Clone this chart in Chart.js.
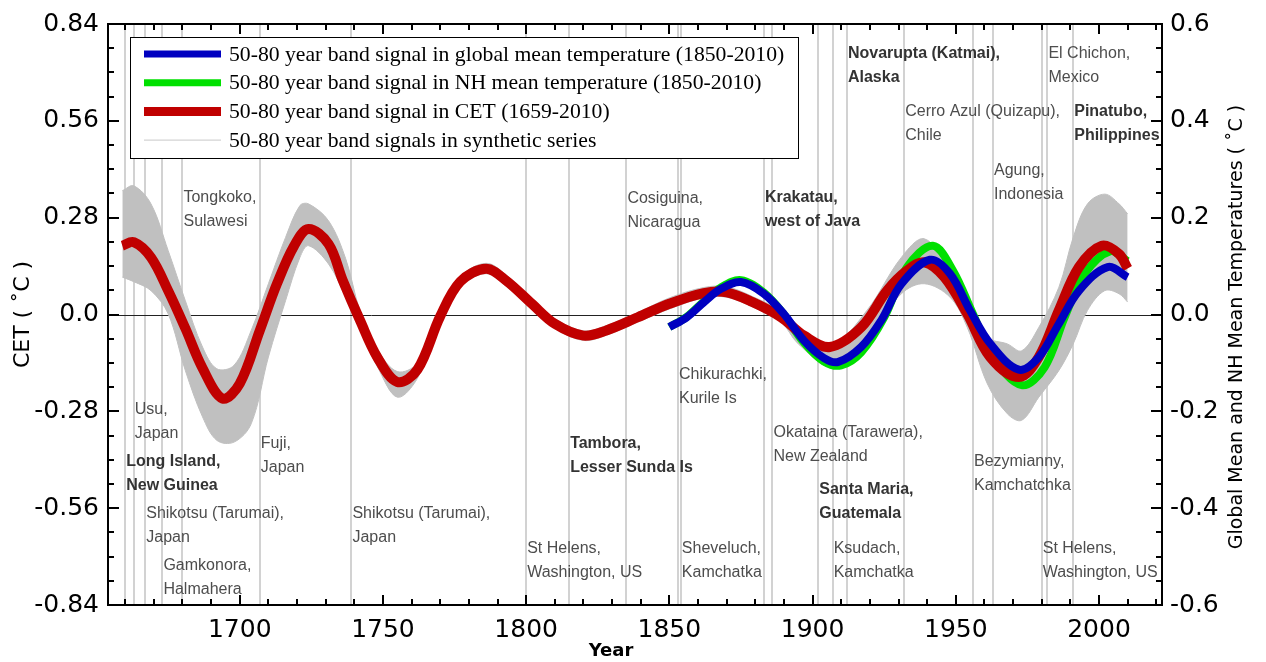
<!DOCTYPE html>
<html>
<head>
<meta charset="utf-8">
<script src="https://cdn.jsdelivr.net/npm/chart.js@4.4.0/dist/chart.umd.min.js"></script>
<style>
  html, body { margin: 0; padding: 0; background: #fff; }
</style>
</head>
<body>
<canvas id="chart" width="1266" height="662"></canvas>
<script>
// CET 50-80 year band signal (left axis, degC)
const cetYears = [1659, 1663, 1669, 1675, 1681, 1687, 1694, 1700, 1707, 1713, 1719, 1724, 1731, 1736, 1742, 1748, 1755, 1762, 1770, 1777, 1786, 1793, 1802, 1810, 1820, 1828, 1839, 1850, 1862, 1870, 1879, 1889, 1897, 1906, 1917, 1926, 1933, 1939, 1946, 1954, 1962, 1972, 1979, 1986, 1993, 2001, 2007, 2010];
const cetValues = [0.199, 0.209, 0.165, 0.069, -0.040, -0.155, -0.243, -0.200, -0.046, 0.089, 0.199, 0.247, 0.204, 0.098, -0.017, -0.123, -0.195, -0.160, -0.005, 0.095, 0.132, 0.098, 0.031, -0.027, -0.061, -0.046, -0.008, 0.031, 0.062, 0.064, 0.036, -0.008, -0.061, -0.094, -0.037, 0.069, 0.127, 0.151, 0.108, 0.002, -0.123, -0.181, -0.123, 0.012, 0.137, 0.199, 0.175, 0.133];

// envelope of the synthetic series (left axis)
const bandYears = [1659, 1663, 1669, 1675, 1681, 1687, 1692, 1698, 1704, 1710, 1716, 1721, 1724, 1731, 1737, 1742, 1748, 1755, 1762, 1770, 1777, 1786, 1793, 1802, 1810, 1820, 1828, 1839, 1850, 1862, 1870, 1879, 1889, 1895, 1907, 1919, 1931, 1939, 1948, 1954, 1961, 1968, 1973, 1979, 1986, 1991, 1996, 2002, 2007, 2010];
const bandUpper = [0.358, 0.372, 0.320, 0.185, 0.040, -0.094, -0.157, -0.147, -0.046, 0.089, 0.223, 0.315, 0.320, 0.271, 0.161, 0.010, -0.100, -0.165, -0.140, 0.015, 0.110, 0.148, 0.115, 0.045, -0.012, -0.047, -0.032, 0.006, 0.048, 0.078, 0.080, 0.052, 0.008, -0.050, -0.085, 0.012, 0.165, 0.219, 0.127, 0.031, -0.066, -0.085, -0.105, -0.037, 0.079, 0.223, 0.320, 0.348, 0.320, 0.291];
const bandLower = [0.108, 0.095, 0.069, 0.002, -0.162, -0.296, -0.364, -0.369, -0.316, -0.123, 0.040, 0.165, 0.199, 0.146, 0.050, -0.045, -0.150, -0.239, -0.185, -0.025, 0.080, 0.118, 0.082, 0.018, -0.040, -0.075, -0.060, -0.022, 0.016, 0.048, 0.050, 0.022, -0.022, -0.085, -0.152, -0.066, 0.060, 0.089, 0.050, -0.037, -0.200, -0.287, -0.306, -0.239, -0.162, -0.085, 0.012, 0.069, 0.060, 0.036];

// global and NH mean temperature band signals (right axis)
const globalYears = [1850, 1856, 1862, 1868, 1875, 1883, 1890, 1897, 1904, 1909, 1917, 1924, 1931, 1941, 1948, 1955, 1962, 1972, 1979, 1986, 1993, 2003, 2010];
const globalValues = [-0.026, -0.006, 0.025, 0.053, 0.067, 0.043, 0.001, -0.054, -0.090, -0.098, -0.067, -0.012, 0.063, 0.113, 0.084, 0.008, -0.060, -0.114, -0.088, -0.019, 0.049, 0.098, 0.077];
const nhYears = [1850, 1856, 1862, 1868, 1875, 1883, 1890, 1897, 1904, 1910, 1917, 1925, 1933, 1942, 1949, 1956, 1963, 1973, 1981, 1988, 1995, 2004, 2010];
const nhValues = [-0.026, -0.005, 0.027, 0.056, 0.071, 0.045, 0.000, -0.058, -0.097, -0.105, -0.078, -0.006, 0.098, 0.142, 0.091, 0.001, -0.088, -0.146, -0.109, -0.006, 0.084, 0.131, 0.110];

// axis ticks
const yearTicks = [1700, 1750, 1800, 1850, 1900, 1950, 2000];
const cetTicks = [-0.84, -0.56, -0.28, 0, 0.28, 0.56, 0.84];
const cetTickLabels = ['-0.84', '-0.56', '-0.28', '0.0', '0.28', '0.56', '0.84'];
const globTicks = [-0.6, -0.4, -0.2, 0, 0.2, 0.4, 0.6];
const globTickLabels = ['-0.6', '-0.4', '-0.2', '0.0', '0.2', '0.4', '0.6'];

// eruptions: vertical markers
const eruptionYears = [1660, 1663, 1667, 1673, 1680, 1707, 1739, 1800, 1815, 1835, 1853, 1854, 1883, 1886, 1902, 1907, 1912, 1932, 1956, 1963, 1980, 1982, 1991];

// volcano names: year, level (CET value of the first line), text, bold
const volcanoYears = [1680, 1663, 1660, 1707, 1667, 1673, 1739, 1800, 1815, 1835, 1853, 1854, 1883, 1886, 1902, 1907, 1912, 1932, 1963, 1982, 1991, 1956, 1980];
const volcanoLevels = [0.338, -0.274, -0.424, -0.372, -0.577, -0.727, -0.577, -0.676, -0.372, 0.335, -0.173, -0.676, 0.338, -0.341, -0.505, -0.676, 0.753, 0.586, 0.416, 0.753, 0.586, -0.424, -0.676];
const volcanoNames = [
  ['Tongkoko,', 'Sulawesi'], ['Usu,', 'Japan'], ['Long Island,', 'New Guinea'], ['Fuji,', 'Japan'],
  ['Shikotsu (Tarumai),', 'Japan'], ['Gamkonora,', 'Halmahera'], ['Shikotsu (Tarumai),', 'Japan'],
  ['St Helens,', 'Washington, US'], ['Tambora,', 'Lesser Sunda Is'], ['Cosiguina,', 'Nicaragua'],
  ['Chikurachki,', 'Kurile Is'], ['Sheveluch,', 'Kamchatka'], ['Krakatau,', 'west of Java'],
  ['Okataina (Tarawera),', 'New Zealand'], ['Santa Maria,', 'Guatemala'], ['Ksudach,', 'Kamchatka'],
  ['Novarupta (Katmai),', 'Alaska'], ['Cerro Azul (Quizapu),', 'Chile'], ['Agung,', 'Indonesia'],
  ['El Chichon,', 'Mexico'], ['Pinatubo,', 'Philippines'], ['Bezymianny,', 'Kamchatchka'],
  ['St Helens,', 'Washington, US']
];
const volcanoBold = [false, false, true, false, false, false, false, false, true, false, false, false, true, false, true, false, true, false, false, false, true, false, false];

const legendLabels = [
  '50-80 year band signal in global mean temperature (1850-2010)',
  '50-80 year band signal in NH mean temperature (1850-2010)',
  '50-80 year band signal in CET (1659-2010)',
  '50-80 year band signals in synthetic series'
];

const toPoints = (xs, ys) => xs.map((x, i) => ({x: x, y: ys[i]}));

const lineDefaults = {
    pointRadius: 0,
    fill: false,
    tension: 0.35,
    borderCapStyle: 'butt'
};

// background: eruption markers and zero line
const backdrop = {
    id: 'backdrop',
    beforeDatasetsDraw(chart) {
        const {ctx, chartArea: a, scales: {x, y}} = chart;
        ctx.save();
        ctx.strokeStyle = '#d2d2d2';
        ctx.lineWidth = 2;
        eruptionYears.forEach(yr => {
            const px = Math.round(x.getPixelForValue(yr));
            ctx.beginPath();
            ctx.moveTo(px, a.top);
            ctx.lineTo(px, a.bottom);
            ctx.stroke();
        });
        ctx.strokeStyle = '#222';
        ctx.lineWidth = 1;
        const zy = Math.round(y.getPixelForValue(0)) + 0.5;
        ctx.beginPath();
        ctx.moveTo(a.left, zy);
        ctx.lineTo(a.right, zy);
        ctx.stroke();
        ctx.restore();
    }
};

// volcano names, legend box, frame with inward ticks, extra titles
const overlay = {
    id: 'overlay',
    afterDraw(chart) {
        const {ctx, chartArea: a, scales: {x, y}} = chart;
        ctx.save();

        // volcano labels
        ctx.textAlign = 'left';
        ctx.textBaseline = 'middle';
        volcanoNames.forEach((lines, i) => {
            const px = x.getPixelForValue(volcanoYears[i]) + 1;
            const py = y.getPixelForValue(volcanoLevels[i]);
            ctx.font = (volcanoBold[i] ? 'bold ' : '') + '16px "Liberation Sans", Arial, sans-serif';
            ctx.fillStyle = volcanoBold[i] ? '#333' : '#4d4d4d';
            lines.forEach((t, j) => ctx.fillText(t, px, py + j * 24));
        });

        // legend
        const lx = a.left + 22, ly = a.top + 13, lw = 668, lh = 121;
        ctx.fillStyle = '#fff';
        ctx.fillRect(lx, ly, lw, lh);
        ctx.strokeStyle = '#000';
        ctx.lineWidth = 1;
        ctx.strokeRect(lx + 0.5, ly + 0.5, lw, lh);
        const ds = chart.data.datasets;
        const swatches = [
            {color: ds[0].borderColor, width: 7},
            {color: ds[2].borderColor, width: 7},
            {color: ds[1].borderColor, width: 9},
            {color: '#c8c8c8', width: 1}
        ];
        ctx.font = '21.7px "Liberation Serif", "Times New Roman", serif';
        ctx.fillStyle = '#000';
        legendLabels.forEach((t, i) => {
            const ry = ly + 17 + i * 28.7;
            ctx.strokeStyle = swatches[i].color;
            ctx.lineWidth = swatches[i].width;
            ctx.beginPath();
            ctx.moveTo(lx + 14, ry);
            ctx.lineTo(lx + 91, ry);
            ctx.stroke();
            ctx.fillText(t, lx + 99, ry + 1);
        });

        // frame and inward ticks
        ctx.strokeStyle = '#000';
        ctx.lineWidth = 2;
        ctx.strokeRect(a.left, a.top, a.right - a.left, a.bottom - a.top);
        const seg = (x1, y1, x2, y2) => {
            ctx.beginPath();
            ctx.moveTo(x1, y1);
            ctx.lineTo(x2, y2);
            ctx.stroke();
        };
        for (let yr = 1660; yr <= 2020; yr += 10) {
            const px = Math.round(x.getPixelForValue(yr));
            const len = yr % 50 === 0 ? 10 : 6;
            seg(px, a.bottom, px, a.bottom - len);
            seg(px, a.top, px, a.top + len);
        }
        for (let i = -12; i <= 12; i++) {
            const py = Math.round(y.getPixelForValue(i * 0.07));
            const len = i % 4 === 0 ? 11 : 6;
            seg(a.left, py, a.left + len, py);
            seg(a.right, py, a.right - len, py);
        }

        // x title
        ctx.fillStyle = '#000';
        ctx.textAlign = 'center';
        ctx.textBaseline = 'middle';
        ctx.font = 'bold 18px "DejaVu Sans", sans-serif';
        ctx.fillText('Year', 611, 651);

        // right title, reading upwards
        ctx.font = '19px "DejaVu Sans", sans-serif';
        ctx.translate(1237, 327);
        ctx.rotate(-Math.PI / 2);
        ctx.fillText('Global Mean and NH Mean Temperatures ( ˚C )', 0, 0);
        ctx.restore();
    }
};

const tickFont = {family: '"DejaVu Sans", sans-serif', size: 25};

new Chart(document.getElementById('chart'), {
    type: 'line',
    data: {
        datasets: [
            Object.assign({
                label: 'Global',
                data: toPoints(globalYears, globalValues),
                yAxisID: 'y2',
                borderColor: '#0000c0',
                borderWidth: 8
            }, lineDefaults),
            Object.assign({
                label: 'CET',
                data: toPoints(cetYears, cetValues),
                yAxisID: 'y',
                borderColor: '#c00000',
                borderWidth: 10
            }, lineDefaults),
            Object.assign({
                label: 'NH',
                data: toPoints(nhYears, nhValues),
                yAxisID: 'y2',
                borderColor: '#00e000',
                borderWidth: 8
            }, lineDefaults),
            Object.assign({}, lineDefaults, {
                label: 'Synthetic upper',
                data: toPoints(bandYears, bandUpper),
                yAxisID: 'y',
                borderColor: '#c0c0c0',
                borderWidth: 1,
                backgroundColor: '#c0c0c0',
                fill: '+1'
            }),
            Object.assign({}, lineDefaults, {
                label: 'Synthetic lower',
                data: toPoints(bandYears, bandLower),
                yAxisID: 'y',
                borderColor: '#c0c0c0',
                borderWidth: 1
            })
        ]
    },
    options: {
        responsive: false,
        animation: false,
        devicePixelRatio: 1,
        layout: {padding: {top: 23, left: 0, right: 0, bottom: 0}},
        plugins: {
            legend: {display: false},
            tooltip: {enabled: false}
        },
        scales: {
            x: {
                type: 'linear',
                min: 1654,
                max: 2022,
                afterBuildTicks: s => { s.ticks = yearTicks.map(v => ({value: v})); },
                afterFit: s => { s.height = 57; },
                grid: {display: false, drawTicks: false},
                border: {display: false},
                ticks: {
                    font: tickFont,
                    color: '#000',
                    padding: 10,
                    maxRotation: 0,
                    callback: v => String(v)
                }
            },
            y: {
                position: 'left',
                min: -0.84,
                max: 0.84,
                afterBuildTicks: s => { s.ticks = cetTicks.map(v => ({value: v})); },
                afterFit: s => { s.width = 108; },
                grid: {display: false, drawTicks: false},
                border: {display: false},
                ticks: {
                    font: tickFont,
                    color: '#000',
                    padding: 9,
                    callback: (v, i) => cetTickLabels[i]
                },
                title: {
                    display: true,
                    text: 'CET ( ˚C )',
                    color: '#000',
                    font: {family: '"DejaVu Sans", sans-serif', size: 22},
                    padding: {top: 10, bottom: 0}
                }
            },
            y2: {
                position: 'right',
                min: -0.6,
                max: 0.6,
                afterBuildTicks: s => { s.ticks = globTicks.map(v => ({value: v})); },
                afterFit: s => { s.width = 104; },
                grid: {display: false, drawTicks: false},
                border: {display: false},
                ticks: {
                    font: tickFont,
                    color: '#000',
                    padding: 8,
                    callback: (v, i) => globTickLabels[i]
                }
            }
        }
    },
    plugins: [backdrop, overlay]
});
</script>
</body>
</html>
